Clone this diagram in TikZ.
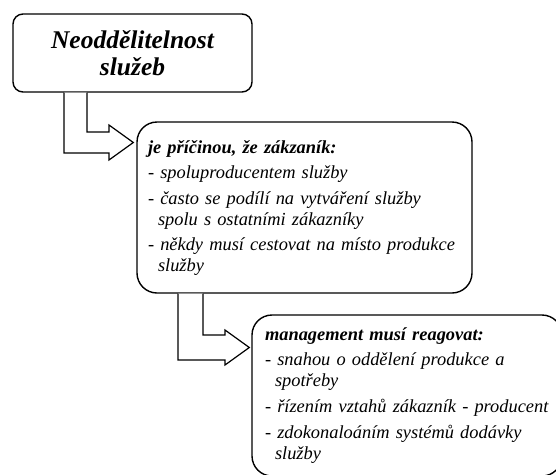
\documentclass[tikz,border=0pt]{standalone}
\usepackage{fontspec}
\setmainfont{Liberation Serif}
\usetikzlibrary{calc}

\begin{document}
\begin{tikzpicture}[x=1pt,y=-1pt]
    \tikzstyle{every node}=[font={\fontsize{18.4}{21}\selectfont\itshape}]
    \tikzstyle{box}=[draw, line width=1.4pt, rounded corners=20pt, align=left]
    \tikzstyle{blockarrow}=[draw, line width=1.2pt, fill=white, line join=miter]
    \useasboundingbox (0,0) rectangle (556,474);
    \clip (0,0) rectangle (556,474);
    \node[box, rounded corners=10pt, align=center, minimum width=239pt, minimum height=78pt,
        font={\fontsize{25.5}{27}\selectfont\bfseries\itshape}] (title) at (132.5,53) {Neoddělitelnost\\služeb};
    \node[box, text width=313pt, inner xsep=11pt, minimum height=171pt] (cause) at (304.5,207.5)
        {\textbf{je příčinou, že zákzaník:}\\[4pt]
        - spoluproducentem služby\\[5pt]
        - často se podílí na vytváření služby\\
        \hspace*{10pt}spolu s ostatními zákazníky\\[4pt]
        - někdy musí cestovat na místo produkce\\
        \hspace*{10pt}služby};
    \node[box, text width=284pt, inner xsep=13pt, minimum height=161pt] (reaction) at (407,395.5)
        {\textbf{management musí reagovat:}\\[4pt]
        - snahou o oddělení produkce a\\
        \hspace*{10pt}spotřeby\\[5pt]
        - řízením vztahů zákazník - producent\\[5pt]
        - zdokonaloáním systémů dodávky\\
        \hspace*{10pt}služby};
    % L-shaped block arrows
    \draw[blockarrow] (64,0 |- title.south) -- (64,153) -- (109,153) -- (109,160)
        -- ([xshift=-3pt]cause.west |- 0,142.5) -- (109,125) -- (109,132) -- (87,132) -- (87,0 |- title.south);
    \draw[blockarrow] (178,0 |- cause.south) -- (178,360) -- (225,360) -- (225,365)
        -- ([xshift=-2pt]reaction.west |- 0,347.5) -- (225,330) -- (225,335) -- (203,335) -- (203,0 |- cause.south);
\end{tikzpicture}
\end{document}
